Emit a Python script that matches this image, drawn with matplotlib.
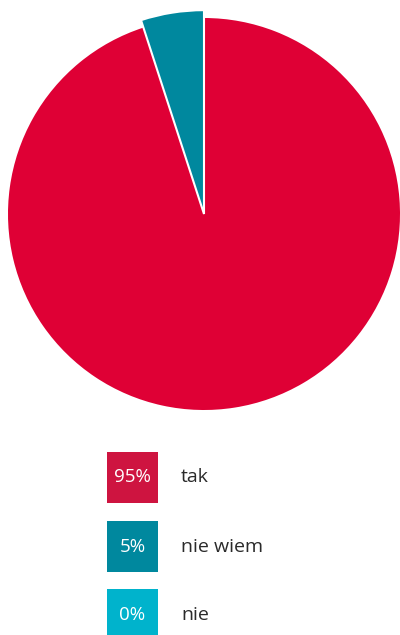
import matplotlib
matplotlib.use("Agg")
import matplotlib.pyplot as plt
from matplotlib.patches import Rectangle

labels = ["tak", "nie wiem", "nie"]
values = [95, 5, 0]
pie_colors = ["#DF0035", "#00889E", "#00B3CC"]
legend_colors = ["#CE1440", "#00889E", "#00B3CC"]

W, H = 400, 635
fig = plt.figure(figsize=(W / 100, H / 100), dpi=100)

# pie: center (204, 214) px, radius 196 px
cx, cy, r = 204, 214, 196
ax = fig.add_axes([(cx - r) / W, (H - cy - r) / H, 2 * r / W, 2 * r / H])
wedges, _ = ax.pie(values[:2], colors=pie_colors[:2], startangle=90, counterclock=False,
                   radius=1, wedgeprops=dict(edgecolor="white", linewidth=1.5))
wedges[0].set_linewidth(0)
wedges[1].set_radius(1.04)
for w in wedges:
    w.set_clip_on(False)
wedges[1].set_zorder(3)
ax.set_xlim(-1, 1)
ax.set_ylim(-1, 1)
ax.set_aspect("equal")
ax.axis("off")

# legend
lx, size, ys = 107, 51, [452, 521, 589]
for lab, v, col, y in zip(labels, values, legend_colors, ys):
    fig.add_artist(Rectangle((lx / W, 1 - (y + size) / H), size / W, size / H,
                             transform=fig.transFigure, color=col, lw=0))
    fig.text((lx + size / 2) / W, 1 - (y + size / 2) / H, f"{v}%", color="white",
             ha="center", va="center", fontsize=13.5, family="Open Sans")
    fig.text(181 / W, 1 - (y + size / 2) / H, lab, color="#2a2a2a",
             ha="left", va="center", fontsize=14, family="Open Sans")

fig.savefig("out.png", dpi=100, facecolor="white")
